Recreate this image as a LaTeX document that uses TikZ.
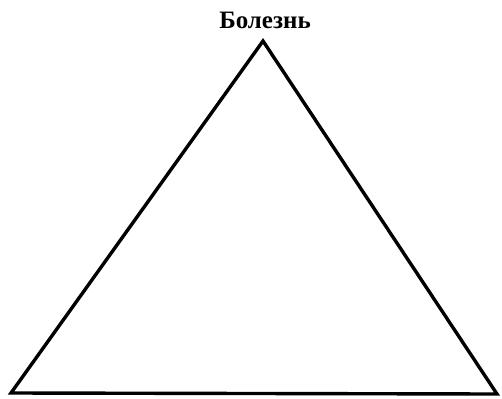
\documentclass[tikz,border=0pt]{standalone}
\usepackage{fontspec}
\setmainfont{Liberation Serif}
\begin{document}
\begin{tikzpicture}[x=1pt,y=-1pt,
  edge/.style={line width=3.4pt,line join=miter,black},
  title/.style={font=\bfseries\fontsize{25}{30}\selectfont,inner sep=0pt}]
\useasboundingbox (0,0) rectangle (502,398);
\coordinate (apex) at (263,41);
\coordinate (bl) at (11,393);
\coordinate (br) at (497,394);
\draw[edge] (apex) -- (br) -- (bl) -- cycle;
\node[title,anchor=base] (label) at (265,29) {Болезнь};
\end{tikzpicture}
\end{document}
